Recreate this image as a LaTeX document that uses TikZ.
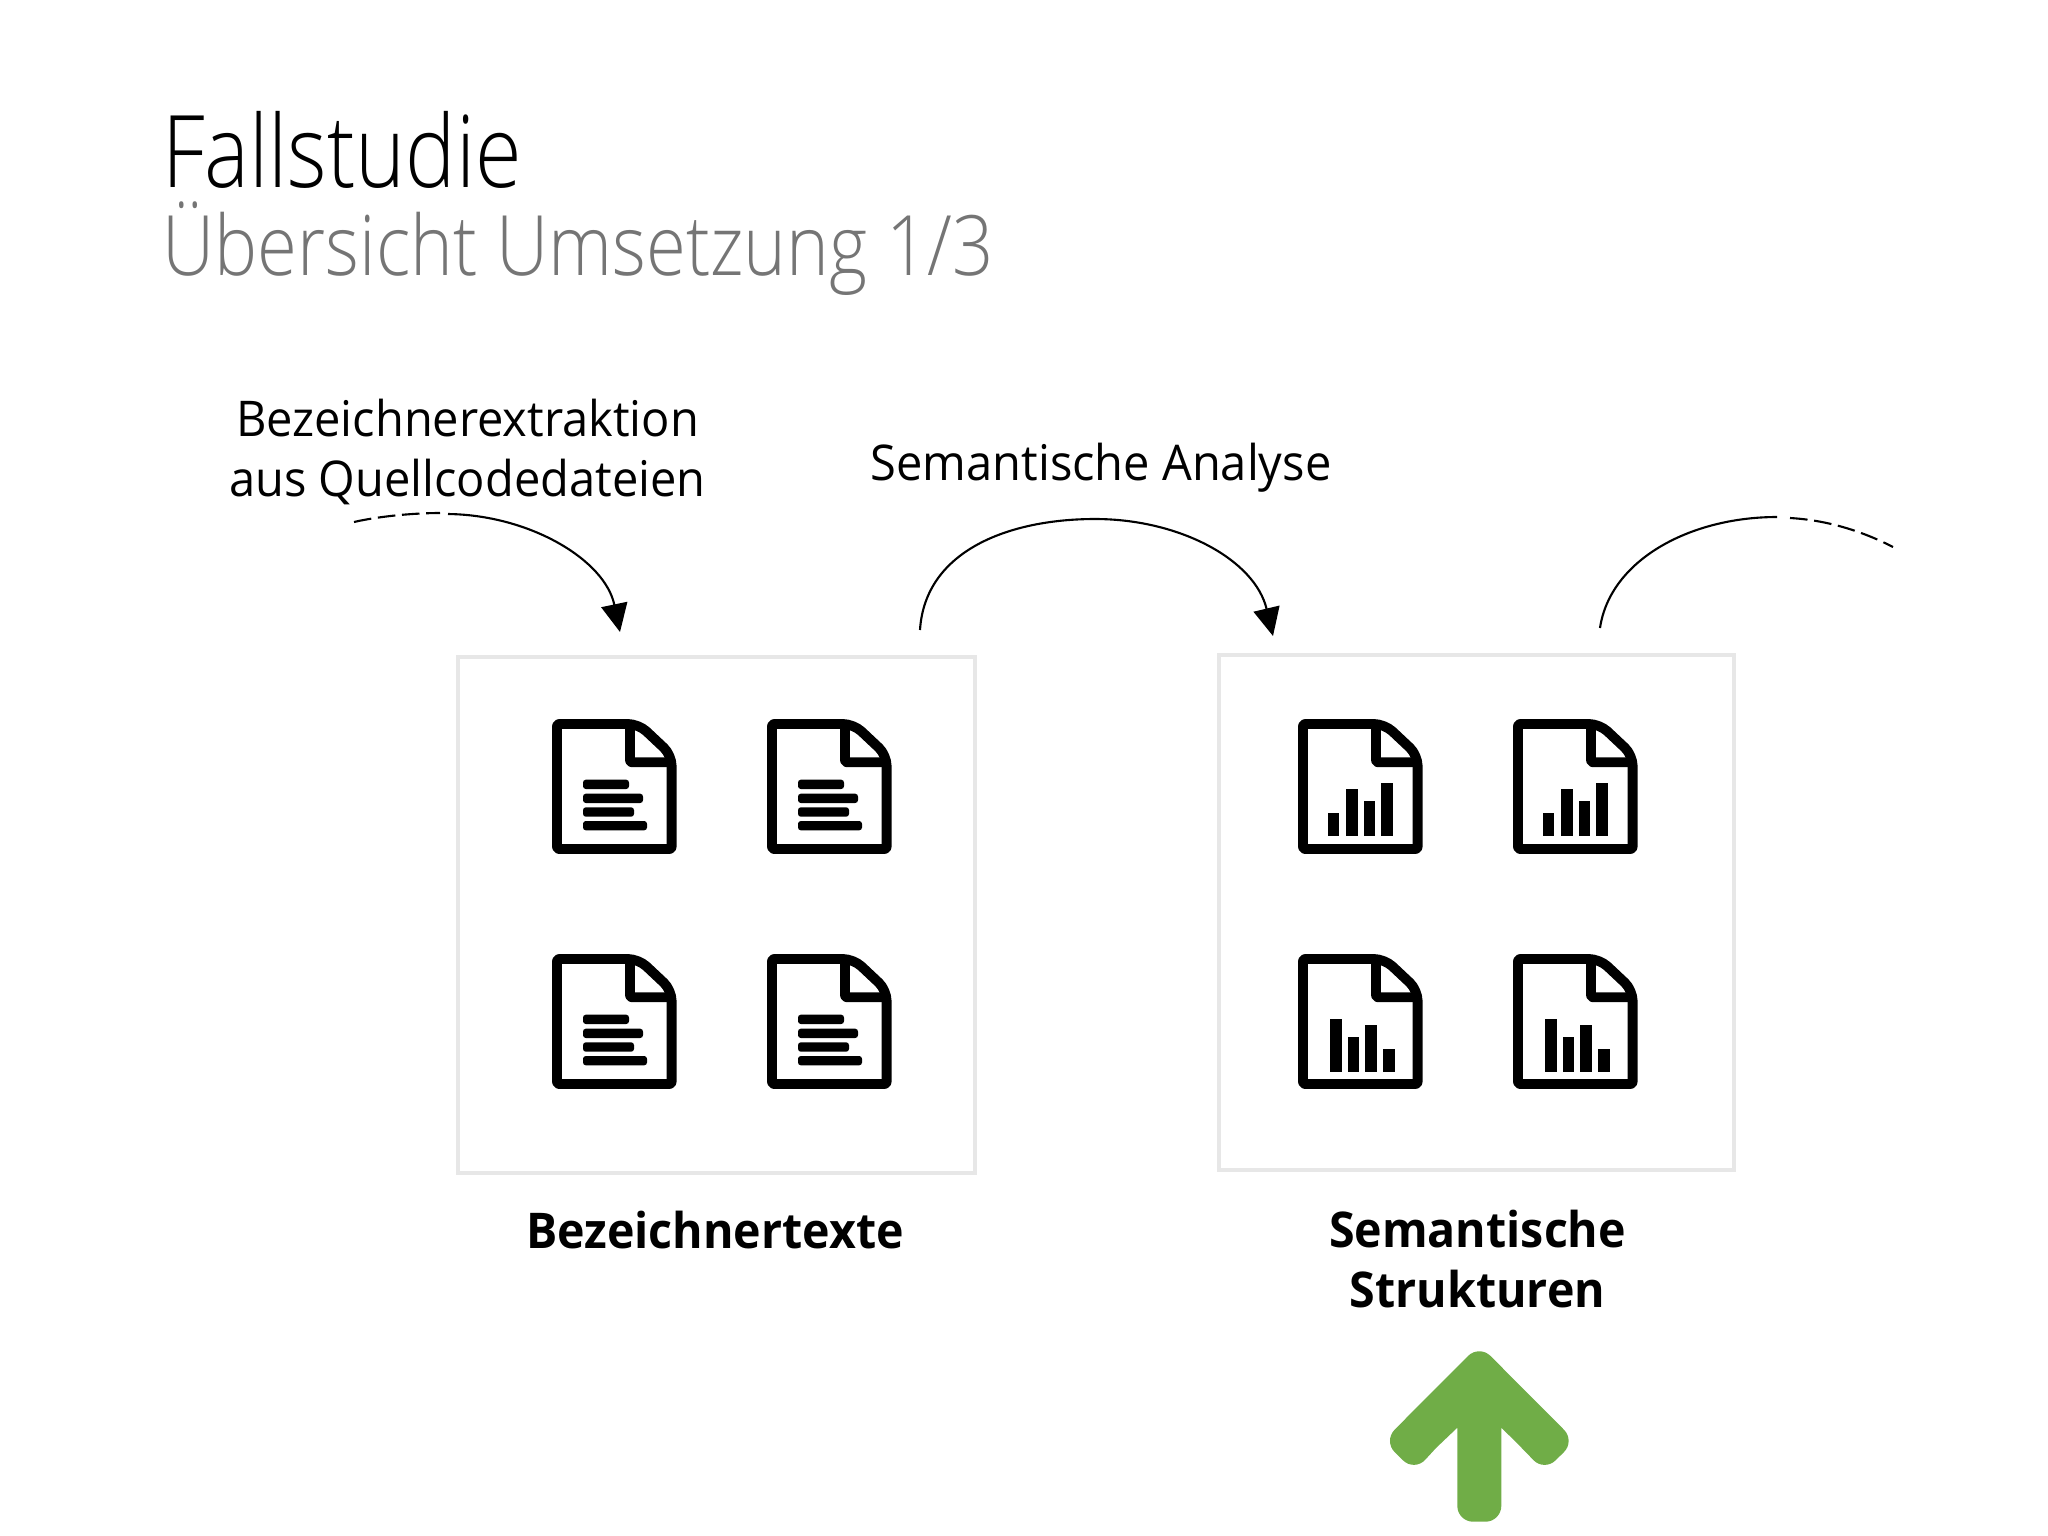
\documentclass[tikz,border=0pt]{standalone}
\usepackage{fontspec}
\setmainfont[FakeStretch=0.955,BoldFeatures={FakeStretch=0.945}]{Open Sans}
\newfontfamily\lightfont[FakeStretch=0.87]{Open Sans Light}
\newfontfamily\titlefont[FakeStretch=0.845]{Open Sans Light}
\usetikzlibrary{arrows.meta}
\definecolor{subgray}{HTML}{757575}
\definecolor{boxgray}{HTML}{E7E7E7}
\definecolor{upgreen}{HTML}{70AD47}
\tikzset{
  mainbox/.style={draw=boxgray,line width=1.14pt},
  docline/.style={draw=black,line width=2.8pt,line join=round},
  barfill/.style={fill=black},
  textbar/.style={fill=black,rounded corners=0.8pt},
  arcline/.style={line width=0.6pt},
  arcdash/.style={line width=0.6pt,dash pattern=on 5pt off 1.9pt},
  arctip/.style={-{Triangle[length=8pt,width=7.5pt]}},
  label/.style={font=\fontsize{14}{17}\selectfont,anchor=base},
  boldlabel/.style={font=\fontsize{14}{17}\selectfont\bfseries,anchor=base},
  pics/docframe/.style={code={
    \draw[docline] (5,60) [rounded corners=0.6pt] --(5,5)--(50,5) [rounded corners=3pt] --(86.6,5)--(119.6,36)--(119.6,60) [rounded corners=0.6pt] --(119.6,130)--(5,130)--cycle;
    \draw[docline,rounded corners=0.6pt] (78,5)--(78,43.3)--(119.6,43.3);
  }},
  pics/doctext/.style={code={
    \pic {docframe};
    \fill[textbar] (31,60.7) rectangle (77,70);
    \fill[textbar] (31,74.7) rectangle (91,84);
    \fill[textbar] (31,88.3) rectangle (82,97.7);
    \fill[textbar] (31,102) rectangle (95,111.3);
  }},
  pics/docbarsup/.style={code={
    \pic {docframe};
    \fill[barfill] (30,94) rectangle (41.4,117);
    \fill[barfill] (48,70.3) rectangle (59.6,117);
    \fill[barfill] (65.7,82) rectangle (77,117);
    \fill[barfill] (83,64) rectangle (94.6,117);
  }},
  pics/docbarsdown/.style={code={
    \pic {docframe};
    \fill[barfill] (32,65.3) rectangle (43.5,118);
    \fill[barfill] (49.6,83) rectangle (61,118);
    \fill[barfill] (67,71.3) rectangle (78.7,118);
    \fill[barfill] (85,95) rectangle (96.8,118);
  }},
}
\begin{document}
\begin{tikzpicture}[x=0.01cm,y=-0.01cm]
  \useasboundingbox (0,0) rectangle (2048,1536);

  \node[anchor=base west,inner sep=0pt,font=\titlefont\fontsize{28.5}{34}\selectfont] (title) at (161.5,187) {Fallstudie};
  \node[anchor=base west,inner sep=0pt,text=subgray,font=\lightfont\fontsize{23.7}{28}\selectfont] (subtitle) at (162,275) {Übersicht Umsetzung 1/3};

  \node[label] (extractlabel) at (467.5,436) {Bezeichnerextraktion};
  \node[label] (sourcelabel) at (467.5,496) {aus Quellcodedateien};
  \node[label] (analysislabel) at (1101,480) {Semantische Analyse};

  % boxes
  \draw[mainbox] (458,657) rectangle (975,1173);
  \draw[mainbox] (1219,655) rectangle (1734,1170);

  \pic at (552,719) {doctext};
  \pic at (767,719) {doctext};
  \pic at (552,954) {doctext};
  \pic at (767,954) {doctext};

  \pic at (1298,719) {docbarsup};
  \pic at (1513,719) {docbarsup};
  \pic at (1298,954) {docbarsdown};
  \pic at (1513,954) {docbarsdown};

  \node[boldlabel] (textslabel) at (715,1248) {Bezeichnertexte};
  \node[boldlabel] (structlabel) at (1477.5,1247) {Semantische};
  \node[boldlabel] (structlabelb) at (1477.5,1307) {Strukturen};

  % arcs
  \coordinate (inA) at (354,522);
  \coordinate (inB) at (440,513);
  \coordinate (inC) at (448,514);
  \coordinate (inD) at (620,632);
  \coordinate (midA) at (920,630);
  \coordinate (midB) at (1095,519);
  \coordinate (midC) at (1273,636);
  \coordinate (outA) at (1600,628);
  \coordinate (outB) at (1777,517);
  \coordinate (outC) at (1790,518);
  \coordinate (outD) at (1893,547);

  \draw[arcdash] (inA) .. controls (380,516) and (415,513) .. (inB);
  \draw[arcline,arctip] (inC) .. controls (530,515) and (605,560) .. (inD);
  \draw[arcline,arctip] (midA) .. controls (925,550) and (1010,519) .. (midB) .. controls (1180,519) and (1255,560) .. (midC);
  \draw[arcline] (outA) .. controls (1610,560) and (1690,517) .. (outB);
  \draw[arcdash] (outC) .. controls (1825,520) and (1860,530) .. (outD);

  % green arrow
  \fill[upgreen] (1431,1393) [rounded corners=4.5pt] -- (1479.3,1344.7) -- (1575.2,1441) -- (1544.2,1471.5) -- (1522,1448) [sharp corners] -- (1501.3,1427.7) -- (1501.3,1480) [rounded corners=4.5pt] -- (1501.3,1521.7) -- (1457.3,1521.7) -- (1457.3,1480) [sharp corners] -- (1457.3,1427.7) -- (1436,1448) [rounded corners=4.5pt] -- (1414.4,1471.5) -- (1383.4,1441) -- cycle;
\end{tikzpicture}
\end{document}
